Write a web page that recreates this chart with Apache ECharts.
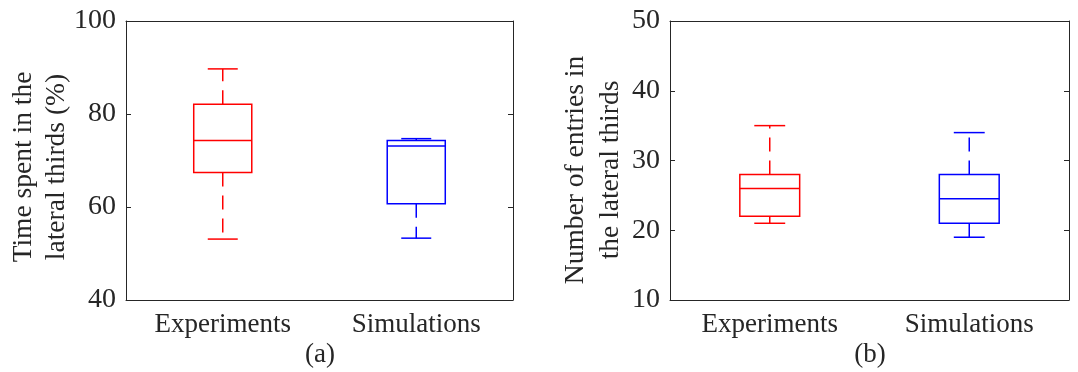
<!DOCTYPE html>
<html>
<head>
<meta charset="utf-8">
<script src="https://cdn.jsdelivr.net/npm/echarts@6/dist/echarts.min.js"></script>
<style>
html,body{margin:0;padding:0;background:#fff;}
#chart{width:1078px;height:372px;}
</style>
</head>
<body>
<div id="chart"></div>
<script>
// ---- data (min, Q1, median, Q3, max) ----
const categories = ['Experiments', 'Simulations'];
const timeExperiments = [53.1, 67.4, 74.3, 82.1, 89.7];
const timeSimulations = [53.3, 60.7, 73.1, 74.3, 74.7];
const entriesExperiments = [21, 22, 26, 28, 35];
const entriesSimulations = [19, 21, 24.5, 28, 34];
// axis ranges: [min, max, interval]
const timeAxisRange = [40, 100, 20];
const entriesAxisRange = [10, 50, 10];
const timeAxisTitle = 'Time spent in the\nlateral thirds (%)';
const entriesAxisTitle = 'Number of entries in\nthe lateral thirds';
const panelLabels = ['(a)', '(b)'];

const boxColors = ['#ff0000', '#0000ff'];
const FONT = '"Liberation Serif", "Times New Roman", serif';
const TXT = '#262626';
const FS_TICK = 28;
const FS_CAT = 27;
const FS_TITLE = 27.5;
const LW = 1.5;

function renderBox(params, api) {
  const cat = api.value(0);
  const pMin = api.coord([cat, api.value(1)]);
  const pQ1 = api.coord([cat, api.value(2)]);
  const pMed = api.coord([cat, api.value(3)]);
  const pQ3 = api.coord([cat, api.value(4)]);
  const pMax = api.coord([cat, api.value(5)]);
  const band = api.size([1, 0])[0];
  const bw = band * 0.30;
  const cw = band * 0.155;
  const cx = pMed[0];
  const color = boxColors[params.dataIndex % boxColors.length];
  const solid = {stroke: color, lineWidth: LW, fill: null};
  const dashed = {stroke: color, lineWidth: LW, fill: null, lineDash: [14, 9]};
  return {
    type: 'group',
    children: [
      {type: 'line', shape: {x1: cx, y1: pQ3[1], x2: cx, y2: pMax[1]}, style: dashed},
      {type: 'line', shape: {x1: cx, y1: pQ1[1], x2: cx, y2: pMin[1]}, style: dashed},
      {type: 'line', shape: {x1: cx - cw / 2, y1: pMax[1], x2: cx + cw / 2, y2: pMax[1]}, style: solid},
      {type: 'line', shape: {x1: cx - cw / 2, y1: pMin[1], x2: cx + cw / 2, y2: pMin[1]}, style: solid},
      {type: 'rect', shape: {x: cx - bw / 2, y: pQ3[1], width: bw, height: pQ1[1] - pQ3[1]}, style: {stroke: color, lineWidth: LW, fill: 'rgba(0,0,0,0)'}},
      {type: 'line', shape: {x1: cx - bw / 2, y1: pMed[1], x2: cx + bw / 2, y2: pMed[1]}, style: solid}
    ]
  };
}

const axisLine = {show: true, lineStyle: {color: TXT, width: 1}};
function xAxes(gi) {
  return [
    {type: 'category', gridIndex: gi, data: categories, position: 'bottom',
     axisLine: axisLine, axisTick: {inside: true, alignWithLabel: true, length: 5, lineStyle: {color: TXT}},
     axisLabel: {fontFamily: FONT, fontSize: FS_CAT, color: TXT, margin: 11}, splitLine: {show: false}},
    {type: 'category', gridIndex: gi, data: categories, position: 'top',
     axisLine: axisLine, axisTick: {inside: true, alignWithLabel: true, length: 5, lineStyle: {color: TXT}},
     axisLabel: {show: false}, splitLine: {show: false}}
  ];
}
function yAxes(gi, range) {
  const base = {type: 'value', gridIndex: gi, min: range[0], max: range[1], interval: range[2],
    axisLine: axisLine, axisTick: {show: true, inside: true, length: 5, lineStyle: {color: TXT}},
    splitLine: {show: false}};
  return [
    Object.assign({}, base, {position: 'left', axisLabel: {fontFamily: FONT, fontSize: FS_TICK, color: TXT, margin: 10}}),
    Object.assign({}, base, {position: 'right', axisLabel: {show: false}})
  ];
}

function toRows(a, b) {
  return [[0].concat(a), [1].concat(b)];
}

const chart = echarts.init(document.getElementById('chart'), null, {renderer: 'canvas'});
chart.setOption({
  animation: false,
  backgroundColor: '#ffffff',
  grid: [
    {left: 126, right: 565, top: 21, bottom: 72},
    {left: 670, right: 9, top: 21, bottom: 72}
  ],
  xAxis: xAxes(0).concat(xAxes(1)),
  yAxis: yAxes(0, timeAxisRange).concat(yAxes(1, entriesAxisRange)),
  series: [
    {type: 'custom', xAxisIndex: 0, yAxisIndex: 0, renderItem: renderBox,
     encode: {x: 0, y: [1, 2, 3, 4, 5]}, data: toRows(timeExperiments, timeSimulations)},
    {type: 'custom', xAxisIndex: 2, yAxisIndex: 2, renderItem: renderBox,
     encode: {x: 0, y: [1, 2, 3, 4, 5]}, data: toRows(entriesExperiments, entriesSimulations)}
  ],
  graphic: [
    {type: 'text', x: 40, y: 167, rotation: Math.PI / 2,
     style: {text: timeAxisTitle, font: FS_TITLE + 'px ' + FONT, fill: TXT, align: 'center', verticalAlign: 'middle', lineHeight: 33}},
    {type: 'text', x: 593, y: 170, rotation: Math.PI / 2,
     style: {text: entriesAxisTitle, font: FS_TITLE + 'px ' + FONT, fill: TXT, align: 'center', verticalAlign: 'middle', lineHeight: 35}},
    {type: 'text', x: 320, y: 355,
     style: {text: panelLabels[0], font: FS_CAT + 'px ' + FONT, fill: TXT, align: 'center', verticalAlign: 'middle'}},
    {type: 'text', x: 870, y: 355,
     style: {text: panelLabels[1], font: FS_CAT + 'px ' + FONT, fill: TXT, align: 'center', verticalAlign: 'middle'}}
  ]
});
</script>
</body>
</html>
